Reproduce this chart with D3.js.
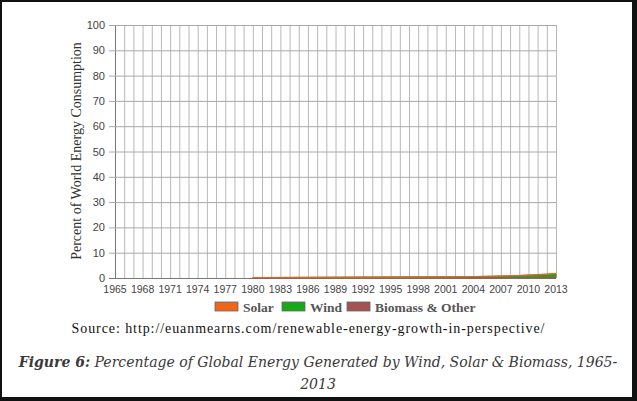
<!DOCTYPE html>
<html><head><meta charset="utf-8">
<script src="https://cdn.jsdelivr.net/npm/d3@7"></script>
<style>body{margin:0;background:#fff}svg{display:block}</style>
</head><body>
<svg id="c" width="637" height="401"></svg>
<script>
const allYears = d3.range(1965, 2014);
const tickYears = d3.range(1965, 2014, 3);
const yTicks = d3.range(0, 101, 10);
const seriesNames = ["Solar", "Wind", "Biomass & Other"];
const seriesColors = ["#f0651e", "#1aa81a", "#a55252"];
const dataYears = d3.range(1980, 2014);
const biomass = [0.18,0.19,0.2,0.21,0.22,0.23,0.24,0.25,0.26,0.27,0.28,0.29,0.3,0.31,0.32,0.33,0.34,0.35,0.36,0.37,0.38,0.39,0.4,0.41,0.42,0.43,0.45,0.47,0.49,0.51,0.54,0.56,0.58,0.6];
const wind = [0,0,0,0,0,0,0,0,0,0,0.01,0.01,0.01,0.01,0.02,0.02,0.02,0.03,0.04,0.05,0.06,0.08,0.1,0.13,0.16,0.2,0.25,0.31,0.39,0.48,0.6,0.74,0.88,1.05];
const solar = [0,0,0,0,0,0,0,0,0,0,0,0,0,0,0,0,0,0,0,0,0,0,0,0,0,0.01,0.01,0.02,0.03,0.04,0.07,0.12,0.17,0.22];

const svg = d3.select("#c");
svg.append("rect").attr("x",1).attr("y",1).attr("width",633).attr("height",397).attr("fill","none").attr("stroke","#111").attr("stroke-width",2);
svg.append("rect").attr("x",632).attr("y",0).attr("width",5).attr("height",401).attr("fill","#111");
svg.append("rect").attr("x",0).attr("y",397).attr("width",637).attr("height",4).attr("fill","#111");

const x = d3.scaleLinear().domain([1965, 2013]).range([115, 556]);
const y = d3.scaleLinear().domain([0, 100]).range([278, 25]);

const g = svg.append("g");
g.selectAll("line.v").data(allYears).join("line")
  .attr("x1", d=>x(d)+0.5).attr("x2", d=>x(d)+0.5).attr("y1", y(100)).attr("y2", y(0))
  .attr("stroke", d=> d===1965 ? "#777" : "#b8b8b8").attr("stroke-width",1);
g.selectAll("line.h").data(yTicks).join("line")
  .attr("x1", 109).attr("x2", 556).attr("y1", d=>y(d)+0.5).attr("y2", d=>y(d)+0.5)
  .attr("stroke", d=> d===0 ? "#777" : "#a8a8a8").attr("stroke-width",1);

const rows = dataYears.map((yr,i)=>({year:yr, "Biomass & Other":biomass[i], "Wind":wind[i], "Solar":solar[i]}));
const stackKeys = ["Biomass & Other","Wind","Solar"];
const stack = d3.stack().keys(stackKeys)(rows);
const color = d3.scaleOrdinal().domain(seriesNames).range(seriesColors);
const area = d3.area().x(d=>x(d.data.year)).y0(d=>y(d[0])).y1(d=>y(d[1]));
g.selectAll("path.a").data(stack).join("path")
  .attr("d", area).attr("fill", d=>color(d.key)).attr("stroke", d=>color(d.key)).attr("stroke-width",0.8);

g.selectAll("text.y").data(yTicks).join("text")
  .attr("x", 105).attr("y", d=>y(d)+4).attr("text-anchor","end")
  .attr("font-family","Liberation Sans, Arial, sans-serif").attr("font-size",11).attr("fill","#444")
  .text(d=>d);
g.selectAll("text.x").data(tickYears).join("text")
  .attr("x", d=>x(d)).attr("y", 293).attr("text-anchor","middle")
  .attr("font-family","Liberation Sans, Arial, sans-serif").attr("font-size",10.5).attr("fill","#444")
  .text(d=>d);
svg.append("text").attr("transform","translate(81,151) rotate(-90)").attr("text-anchor","middle")
  .attr("font-family","Liberation Serif, Times New Roman, serif").attr("font-size",14).attr("fill","#333")
  .text("Percent of World Energy Consumption");

const legX = [215, 282, 347];
const leg = svg.selectAll("g.leg").data(seriesNames).join("g").attr("transform",(d,i)=>`translate(${legX[i]},302)`);
leg.append("rect").attr("width",23).attr("height",9).attr("fill",d=>color(d)).attr("stroke","#666").attr("stroke-width",0.8);
leg.append("text").attr("x",28).attr("y",9.5).attr("font-family","Liberation Serif, Times New Roman, serif")
  .attr("font-size",13.5).attr("font-weight","bold").attr("fill","#555").text(d=>d);

svg.append("text").attr("x",308).attr("y",333).attr("text-anchor","middle")
  .attr("font-family","Liberation Serif, Times New Roman, serif").attr("font-size",14).attr("fill","#111")
  .attr("textLength",473).attr("lengthAdjust","spacing")
  .text("Source: http://euanmearns.com/renewable-energy-growth-in-perspective/");

const cap = svg.append("text").attr("x",318).attr("y",367).attr("text-anchor","middle")
  .attr("font-family","DejaVu Serif Condensed, DejaVu Serif, serif").attr("font-stretch","condensed")
  .attr("font-size",15.6).attr("font-style","italic").attr("fill","#3a3a3a");
cap.append("tspan").attr("font-weight","bold").text("Figure 6:");
cap.append("tspan").text(" Percentage of Global Energy Generated by Wind, Solar & Biomass, 1965-");
svg.append("text").attr("x",318).attr("y",389).attr("text-anchor","middle")
  .attr("font-family","DejaVu Serif Condensed, DejaVu Serif, serif").attr("font-stretch","condensed")
  .attr("font-size",15.6).attr("font-style","italic").attr("fill","#3a3a3a")
  .text("2013");
</script>
</body></html>
